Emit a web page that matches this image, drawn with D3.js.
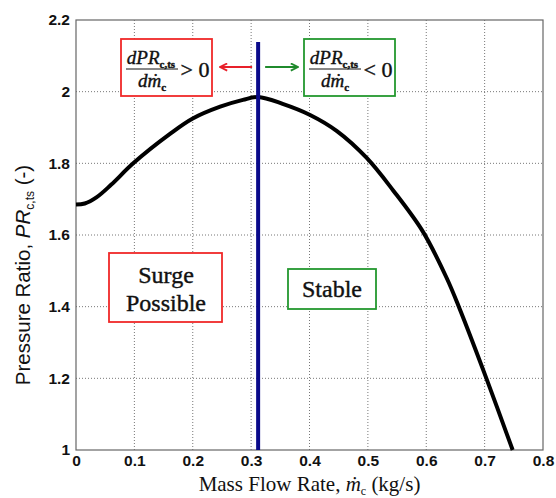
<!DOCTYPE html>
<html>
<head>
<meta charset="utf-8">
<script src="https://cdn.jsdelivr.net/npm/d3@7"></script>
<style>
  body { margin: 0; background: #fff; }
  .tick text { font-family: "Liberation Sans", Arial, sans-serif; font-weight: bold; font-size: 15.5px; fill: #111; }
  .serif { font-family: "Liberation Serif", "Times New Roman", serif; fill: #111; }
  .heavy { stroke: #111; stroke-width: 0.4px; }
</style>
</head>
<body>
<div id="chart"></div>
<script>
// compressor characteristic
const massFlow = [0, 0.015, 0.035, 0.06, 0.098, 0.161, 0.2, 0.247, 0.286, 0.312, 0.354, 0.401, 0.447, 0.498, 0.543, 0.594, 0.635, 0.657, 0.703, 0.748];
const pressureRatio = [1.685, 1.688, 1.705, 1.74, 1.80, 1.882, 1.925, 1.958, 1.977, 1.985, 1.966, 1.935, 1.89, 1.815, 1.725, 1.61, 1.48, 1.395, 1.20, 1.0];
const surgeLine = 0.312;
const xTicks = [0, 0.1, 0.2, 0.3, 0.4, 0.5, 0.6, 0.7, 0.8];
const yTicks = [1, 1.2, 1.4, 1.6, 1.8, 2, 2.2];

const W = 556, H = 498;
const margin = { top: 20, right: 13, bottom: 48, left: 76 };
const width = W - margin.left - margin.right;
const height = H - margin.top - margin.bottom;

const xScale = d3.scaleLinear().domain([0, 0.8]).range([0, width]);
const yScale = d3.scaleLinear().domain([1, 2.2]).range([height, 0]);

const svg = d3.select('#chart')
  .append('svg')
    .attr('width', W)
    .attr('height', H)
  .append('g')
    .attr('transform', 'translate(' + margin.left + ',' + margin.top + ')');

const defs = svg.append('defs');
function arrowHead (id, color) {
  defs.append('marker')
      .attr('id', id)
      .attr('viewBox', '0 0 10 10')
      .attr('refX', 9).attr('refY', 5)
      .attr('markerWidth', 9).attr('markerHeight', 9)
      .attr('markerUnits', 'userSpaceOnUse')
      .attr('orient', 'auto')
    .append('path')
      .attr('d', 'M1,1 L9,5 L1,9')
      .attr('fill', 'none')
      .attr('stroke', color)
      .attr('stroke-width', 2);
}
arrowHead('arRed', '#e8202a');
arrowHead('arGreen', '#1f8a2c');

// grid
svg.append('g')
  .selectAll('line')
  .data(xTicks.slice(1, -1))
  .enter().append('line')
    .attr('x1', (d) => xScale(d)).attr('x2', (d) => xScale(d))
    .attr('y1', 0).attr('y2', height)
    .attr('stroke', '#777').attr('stroke-width', 1).attr('stroke-dasharray', '1,2');
svg.append('g')
  .selectAll('line')
  .data(yTicks.slice(1, -1))
  .enter().append('line')
    .attr('y1', (d) => yScale(d)).attr('y2', (d) => yScale(d))
    .attr('x1', 0).attr('x2', width)
    .attr('stroke', '#777').attr('stroke-width', 1).attr('stroke-dasharray', '1,2');

// frame
svg.append('rect')
    .attr('width', width).attr('height', height)
    .attr('fill', 'none').attr('stroke', '#666').attr('stroke-width', 1.2);

// axes
svg.append('g')
    .attr('transform', 'translate(0,' + height + ')')
    .call(d3.axisBottom(xScale).tickValues(xTicks).tickSize(0).tickPadding(5).tickFormat(d3.format('')))
    .call((g) => g.select('.domain').remove());
svg.append('g')
    .call(d3.axisLeft(yScale).tickValues(yTicks).tickSize(0).tickPadding(6).tickFormat(d3.format('')))
    .call((g) => g.select('.domain').remove());

// curve
svg.append('path')
    .datum(massFlow.map((m, i) => [m, pressureRatio[i]]))
    .attr('fill', 'none')
    .attr('stroke', '#000')
    .attr('stroke-width', 4)
    .attr('stroke-linejoin', 'round')
    .attr('d', d3.line().x((d) => xScale(d[0])).y((d) => yScale(d[1])).curve(d3.curveCatmullRom.alpha(0.5)));

// surge line
svg.append('line')
    .attr('x1', xScale(surgeLine)).attr('x2', xScale(surgeLine))
    .attr('y1', 22).attr('y2', height)
    .attr('stroke', '#0a0a8a').attr('stroke-width', 4);

// arrows
const arrowY = 47;
svg.append('line')
    .attr('x1', xScale(surgeLine) - 6).attr('x2', 144)
    .attr('y1', arrowY).attr('y2', arrowY)
    .attr('stroke', '#e8202a').attr('stroke-width', 2)
    .attr('marker-end', 'url(#arRed)');
svg.append('line')
    .attr('x1', xScale(surgeLine) + 7).attr('x2', 222)
    .attr('y1', arrowY).attr('y2', arrowY)
    .attr('stroke', '#1f8a2c').attr('stroke-width', 2)
    .attr('marker-end', 'url(#arGreen)');

// derivative boxes
function derivBox (x0, color, sign) {
  const g = svg.append('g').attr('transform', 'translate(' + x0 + ',19)');
  g.append('rect')
      .attr('width', 91).attr('height', 57)
      .attr('fill', '#fff').attr('stroke', color).attr('stroke-width', 1.8);
  const num = g.append('text').attr('class', 'serif heavy')
      .attr('x', 30).attr('y', 25).attr('text-anchor', 'middle')
      .style('font-size', '19px').style('font-style', 'italic');
  num.append('tspan').text('dPR');
  num.append('tspan').attr('dy', 4).style('font-size', '11px').style('font-style', 'normal').style('font-weight', 'bold').text('c,ts');
  g.append('line')
      .attr('x1', 5).attr('x2', 57).attr('y1', 30).attr('y2', 30)
      .attr('stroke', '#111').attr('stroke-width', 1);
  const den = g.append('text').attr('class', 'serif heavy')
      .attr('x', 31).attr('y', 48).attr('text-anchor', 'middle')
      .style('font-size', '19px').style('font-style', 'italic');
  den.append('tspan').text('d\u1E41');
  den.append('tspan').attr('dy', 4).style('font-size', '11px').style('font-style', 'normal').style('font-weight', 'bold').text('c');
  g.append('text').attr('class', 'serif heavy')
      .attr('x', 74).attr('y', 38).attr('text-anchor', 'middle')
      .style('font-size', '22px')
      .text(sign + ' 0');
}
derivBox(45, '#f02828', '>');
derivBox(228, '#24982f', '<');

// region boxes
const surge = svg.append('g');
surge.append('rect')
    .attr('x', 33).attr('y', 233).attr('width', 113).attr('height', 69)
    .attr('fill', '#fff').attr('stroke', '#f02828').attr('stroke-width', 1.8);
surge.append('text').attr('class', 'serif heavy')
    .attr('x', 90).attr('y', 263).attr('text-anchor', 'middle')
    .style('font-size', '24px').text('Surge');
surge.append('text').attr('class', 'serif heavy')
    .attr('x', 90).attr('y', 291).attr('text-anchor', 'middle')
    .style('font-size', '24px').text('Possible');

const stable = svg.append('g');
stable.append('rect')
    .attr('x', 212).attr('y', 249).attr('width', 88).attr('height', 40)
    .attr('fill', '#fff').attr('stroke', '#24982f').attr('stroke-width', 1.8);
stable.append('text').attr('class', 'serif heavy')
    .attr('x', 256).attr('y', 277).attr('text-anchor', 'middle')
    .style('font-size', '24px').text('Stable');

// axis titles
const xTitle = svg.append('text').attr('class', 'serif')
    .attr('x', width / 2).attr('y', height + 41)
    .attr('text-anchor', 'middle')
    .style('font-size', '21px');
xTitle.append('tspan').text('Mass Flow Rate, ');
xTitle.append('tspan').style('font-style', 'italic').text('\u1E41');
xTitle.append('tspan').attr('dy', 4).style('font-size', '12px').text('c');
xTitle.append('tspan').attr('dy', -4).text(' (kg/s)');

const yTitle = svg.append('text')
    .attr('transform', 'translate(' + (-46) + ',' + (255) + ') rotate(-90)')
    .attr('text-anchor', 'middle')
    .style('font-family', '"Liberation Sans", Arial, sans-serif')
    .style('fill', '#111')
    .style('font-size', '20.5px');
yTitle.append('tspan').text('Pressure Ratio, ');
yTitle.append('tspan').style('font-style', 'italic').text('PR');
yTitle.append('tspan').attr('dy', 4).style('font-size', '12px').text('c,ts');
yTitle.append('tspan').attr('dy', -4).text(' (-)');
</script>
</body>
</html>
